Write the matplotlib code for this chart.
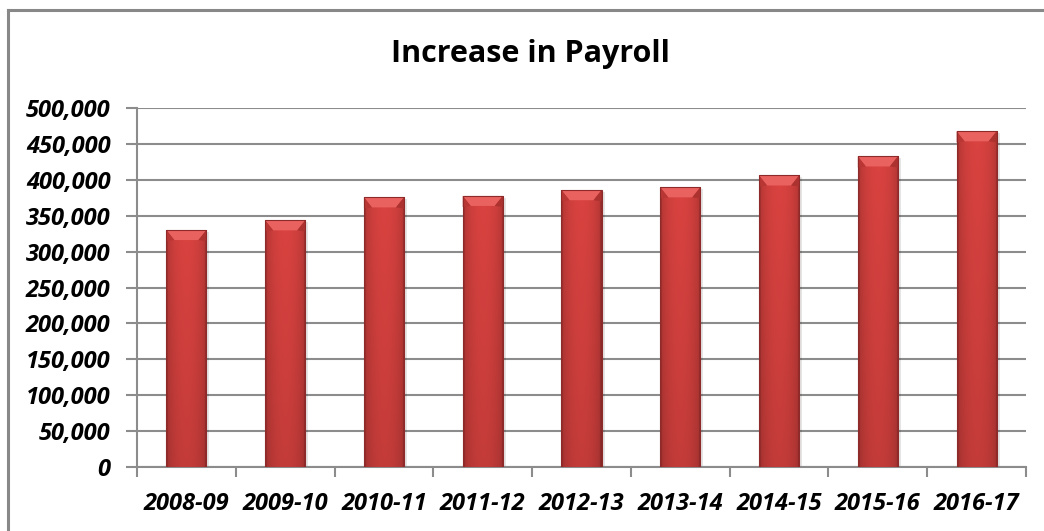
import numpy as np
import matplotlib
matplotlib.use("Agg")
import matplotlib.pyplot as plt
from matplotlib.lines import Line2D
from matplotlib.patches import Polygon, Rectangle
from matplotlib.ticker import FuncFormatter, FixedLocator

years = ["2008-09", "2009-10", "2010-11", "2011-12", "2012-13",
         "2013-14", "2014-15", "2015-16", "2016-17"]
payroll = [330000, 343500, 375500, 377500, 385500, 389500, 406000, 432500, 467500]
y_ticks = [0, 50000, 100000, 150000, 200000, 250000, 300000, 350000, 400000, 450000, 500000]

plt.rcParams["font.family"] = ["Open Sans", "DejaVu Sans"]

fig = plt.figure(figsize=(10.44, 5.31), dpi=100)
fig.patch.set_facecolor("white")

# outer chart frame (left and top edges)
fx, fy = 7.5 / 1044, 1 - 9.5 / 531
fig.add_artist(Line2D([fx, fx], [0, fy], transform=fig.transFigure,
                      color="#888888", linewidth=2.2, solid_capstyle="projecting"))
fig.add_artist(Line2D([fx, 1], [fy, fy], transform=fig.transFigure,
                      color="#888888", linewidth=2.2, solid_capstyle="projecting"))

ax = fig.add_axes([137 / 1044, 1 - 467 / 531, (1026 - 137) / 1044, (467 - 108) / 531])
x = np.arange(len(years))
bars = ax.bar(x, payroll, width=0.405, color="#D4403F", zorder=3)

ax.set_xlim(-0.5, len(years) - 0.5)
ax.set_ylim(0, 500000)

# cylinder-style shading for each bar
ncol, nrow = 64, 64
u = np.linspace(0, 1, ncol)
prof = 0.80 + 0.22 * np.sin(np.pi * u) ** 0.6
prof[:3] *= 0.88
prof[-3:] *= 0.85
base = np.array([0.835, 0.255, 0.245])
v = np.linspace(0, 1, nrow)[:, None]  # top -> bottom
vert = 1.0 - 0.10 * v
img = np.clip(base[None, None, :] * prof[None, :, None] * vert[:, :, None], 0, 1)

px_x = (1026 - 137) / len(years)  # pixels per category
px_y = (467 - 108) / 500000.0      # pixels per unit value
d = 8 / px_x
b = 10 / px_y

for rect in bars.patches:
    x0 = rect.get_x()
    w = rect.get_width()
    h = rect.get_height()
    # soft shadow on the right
    ax.add_patch(Rectangle((x0 + 3 / px_x, 0), w, h - 2 / px_y, facecolor="#000000",
                           alpha=0.10, edgecolor="none", zorder=2))
    im = ax.imshow(img, extent=[x0, x0 + w, 0, h], aspect="auto", zorder=3.5,
                   interpolation="bilinear")
    im.set_clip_path(rect)
    # bevelled top
    ax.add_patch(Polygon([(x0, h), (x0 + w, h), (x0 + w - d, h - b), (x0 + d, h - b)],
                         closed=True, facecolor="#E9625F", edgecolor="none", zorder=4))
    ax.add_patch(Polygon([(x0, h), (x0 + d, h - b), (x0, h - b * 1.1)],
                         closed=True, facecolor="#B83634", edgecolor="none", zorder=4))
    ax.add_patch(Polygon([(x0 + w, h), (x0 + w - d, h - b), (x0 + w, h - b * 1.1)],
                         closed=True, facecolor="#AC3230", edgecolor="none", zorder=4))
    ax.add_patch(Rectangle((x0, 0), w, h, fill=False, edgecolor="#8E2A2A",
                           linewidth=0.8, zorder=4.5))

ax.set_yticks(y_ticks)
ax.yaxis.set_major_formatter(FuncFormatter(lambda val, pos: f"{int(val):,}"))
ax.grid(axis="y", color="#8C8C8C", linewidth=1.5, zorder=1)
ax.set_axisbelow(True)

ax.xaxis.set_major_locator(FixedLocator(np.arange(-0.5, len(years), 1.0)))
ax.xaxis.set_major_formatter(FuncFormatter(lambda val, pos: ""))
ax.xaxis.set_minor_locator(FixedLocator(x))
ax.set_xticklabels(years, minor=True)
ax.tick_params(axis="x", which="minor", length=0, pad=18)
ax.tick_params(axis="x", which="major", length=7, width=1.5, color="#8C8C8C")
ax.tick_params(axis="y", length=8, width=1.5, color="#8C8C8C", pad=11)

for lbl in ax.get_yticklabels() + ax.get_xticklabels(minor=True):
    lbl.set_fontsize(17)
    lbl.set_fontweight("bold")
    lbl.set_fontstyle("italic")

for side in ["top", "right"]:
    ax.spines[side].set_visible(False)
for side in ["left", "bottom"]:
    ax.spines[side].set_color("#8C8C8C")
    ax.spines[side].set_linewidth(1.5)

fig.text(530 / 1044, 1 - 54 / 531, "Increase in Payroll", ha="center", va="center",
         fontsize=22, fontweight="bold")

fig.savefig("out.png", dpi=100, facecolor="white")
